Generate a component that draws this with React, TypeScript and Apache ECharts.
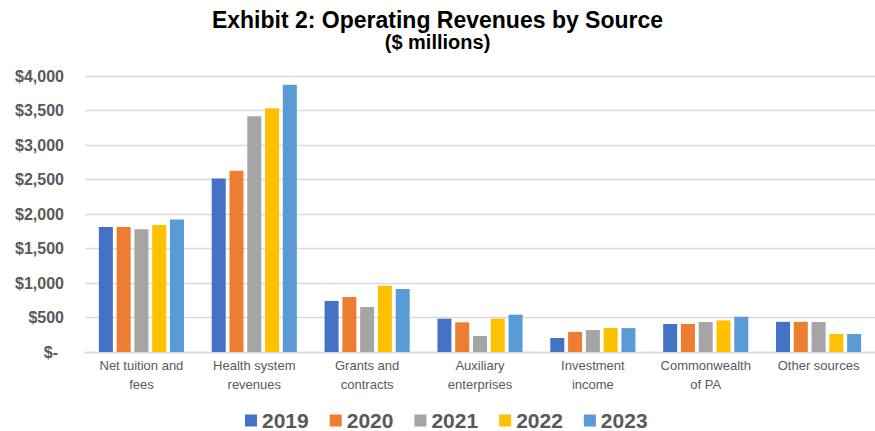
import React, { useEffect, useRef } from "react";
import * as echarts from "echarts";

const categories = [
  "Net tuition and\nfees",
  "Health system\nrevenues",
  "Grants and\ncontracts",
  "Auxiliary\nenterprises",
  "Investment\nincome",
  "Commonwealth\nof PA",
  "Other sources",
];
const years = ["2019", "2020", "2021", "2022", "2023"];
const v2019 = [1810, 2515, 740, 483, 203, 406, 437];
const v2020 = [1810, 2628, 797, 430, 292, 406, 437];
const v2021 = [1778, 3415, 652, 232, 319, 435, 435];
const v2022 = [1840, 3531, 961, 483, 348, 458, 261];
const v2023 = [1922, 3874, 913, 541, 346, 511, 261];
const seriesValues = [v2019, v2020, v2021, v2022, v2023];
const colors = ["#4472C4", "#ED7D31", "#A5A5A5", "#FFC000", "#5B9BD5"];

const FONT = "'Liberation Sans', Arial, sans-serif";

export default function App() {
  const ref = useRef<HTMLDivElement>(null);
  useEffect(() => {
    if (!ref.current) return;
    const chart = echarts.init(ref.current, null, { renderer: "svg" });
    chart.setOption({
      animation: false,
      backgroundColor: "#ffffff",
      textStyle: { fontFamily: FONT },
      title: [
        {
          text: "Exhibit 2: Operating Revenues by Source",
          left: "center",
          top: 8,
          padding: 0,
          textStyle: { fontFamily: FONT, fontSize: 23, lineHeight: 24, fontWeight: "bold", color: "#000000" },
        },
        {
          text: "($ millions)",
          left: "center",
          top: 32,
          padding: 0,
          textStyle: { fontFamily: FONT, fontSize: 20, lineHeight: 20, fontWeight: "bold", color: "#000000" },
        },
      ],
      legend: {
        data: years,
        left: 245,
        top: 410,
        padding: 0,
        itemWidth: 12,
        itemHeight: 12,
        itemGap: 21,
        icon: "rect",
        textStyle: { fontFamily: FONT, fontSize: 21, lineHeight: 18, fontWeight: "bold", color: "#595959" },
      },
      grid: { left: 85, top: 76, width: 797, height: 276, containLabel: false },
      xAxis: {
        type: "category",
        data: categories,
        axisLine: { show: true, lineStyle: { color: "#d9d9d9", width: 1.3 } },
        axisTick: { show: false },
        axisLabel: {
          interval: 0,
          margin: 4,
          fontFamily: FONT,
          fontSize: 13,
          lineHeight: 19,
          color: "#595959",
        },
      },
      yAxis: {
        type: "value",
        min: 0,
        max: 4000,
        interval: 500,
        axisLine: { show: false },
        axisTick: { show: false },
        splitLine: { lineStyle: { color: "#d9d9d9", width: 1.3 } },
        axisLabel: {
          margin: 21,
          fontFamily: FONT,
          fontSize: 16,
          fontWeight: "bold",
          color: "#595959",
          formatter: (v: number) => (v === 0 ? "{z|$-}" : "$" + v.toLocaleString("en-US")),
          rich: {
            z: {
              fontFamily: FONT,
              fontSize: 16,
              fontWeight: "bold",
              color: "#595959",
              padding: [0, 6, 0, 0],
            },
          },
        },
      },
      series: years.map((y, i) => ({
        name: y,
        type: "bar",
        data: seriesValues[i],
        barWidth: 14,
        barGap: "27%",
        itemStyle: { color: colors[i] },
      })),
    });
    return () => chart.dispose();
  }, []);
  return (
    <div
      ref={ref}
      style={{ position: "fixed", left: 0, top: 0, width: 875, height: 431 }}
    />
  );
}
